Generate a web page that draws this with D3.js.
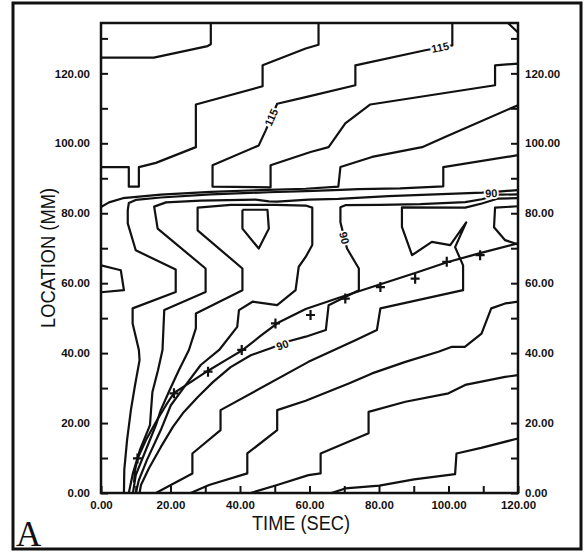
<!DOCTYPE html>
<meta charset="utf-8">
<style>

body {
  margin: 0;
  background: #fff;
}

text {
  font-family: "Liberation Sans", Arial, sans-serif;
  fill: #111;
}

.contour {
  fill: none;
  stroke: #111;
  stroke-width: 2.2;
  stroke-linejoin: round;
}

.axis text {
  font-size: 11.5px;
  font-weight: bold;
}

.axis line {
  stroke: #111;
  stroke-width: 2;
}

</style>
<svg width="588" height="555"></svg>
<script src="https://d3js.org/d3.v7.min.js"></script>
<script>

// contour lines, each point is [time (sec), location (mm)]
var contour_a = [[0,124.5],[15.2,124.5],[30.7,127.8],[31.6,128.3],[31.6,134.4]];

var contour_b = [[62.6,134.4],[62.6,128.2],[58.9,127.1],[46.5,122.3],[46.5,116.3],[27.3,111.1],
                 [27.3,98.9],[15.8,94.4],[10.9,93.2],[10.9,87.6],[8.0,87.6],[8.0,93.2],[0,93.2]];

var contour_c = [[120,131.7],[117.1,134.4],[101.1,134.4],[101.1,128.0],[93.3,126.6],[73.2,122.3],
                 [73.2,116.6],[58.9,113.2],[50.7,111.3],[47.4,103.7],[45.4,99.4],[32.1,93.7],
                 [32.1,87.6],[48.8,87.4],[48.8,93.7],[60.3,97.5],[65.5,98.9],[70.3,105.7],
                 [77.5,111.1],[113.4,116.6],[113.4,122.3],[120,122.8]];

var contour_d = [[0,81.8],[2.3,83.1],[6.3,84.3],[17.2,85.3],[31.6,86.1],[48.2,86.7],[58.9,87.0],
                 [68.3,87.6],[68.9,93.2],[78.0,96.1],[92.4,98.9],[99.0,101.8],[120,110.9]];

var contour_e = [[120,96.6],[98.5,93.2],[98.5,87.7],[86.1,87.1],[74.1,86.9],[68.9,86.7],[58.9,86.3],
                 [48.2,86.0],[31.6,85.4],[17.2,84.5],[10.0,83.8],[8.0,82.9],[7.7,80.9],[7.7,77.1],
                 [10.0,69.4],[21.5,63.9],[21.5,57.5],[9.1,52.8],[9.1,48.5],[10.9,40.9],[11.1,38.0],
                 [9.8,30.9],[8.6,23.7],[7.5,15.1],[6.7,6.6],[6.6,0]];

var contour_f = [[120,86.6],[114.3,86.2],[109.7,85.9],[82.7,84.9],[68.3,84.1],[59.7,83.9],[50.7,83.3],
                 [48.3,83.4],[44.5,83.9],[28.7,83.6],[18.7,83.1],[15.3,81.9],[16.3,75.6],[30.1,64.2],
                 [30.1,57.5],[18.2,52.3],[17.7,40.9],[16.4,35.1],[14.8,28.9],[14.4,23.7],[14.1,19.4],
                 [11.2,12.3],[9.2,5.7],[8.0,0]];

var contour_g = [[9.2,0],[10.0,5.1],[12.9,12.3],[15.8,19.4],[17.2,23.7],[19.5,28.9],[22.4,35.1],
                 [25.3,40.9],[27.3,47.1],[27.3,51.3],[40.7,58.0],[40.7,64.2],[27.8,75.1],[27.8,81.6],
                 [37.3,82.4],[50.2,82.4],[58.9,82.2],[60.8,81.6],[60.8,70.9],[58.9,67.5],[56.9,64.7],
                 [56.0,58.0],[50.7,53.7],[43.6,54.7],[39.7,52.3],[39.2,47.5],[34.0,40.9],[28.7,36.6],
                 [24.4,30.9],[20.1,25.1],[17.2,18.0],[13.2,9.4],[10.9,3.7],[10.0,0]];

var contour_pent = [[40.7,81.0],[47.9,81.0],[48.3,75.6],[45.4,69.9],[40.7,75.6],[40.7,81.0]];

var contour_n = [[120,85.4],[114.3,85.3],[109.6,84.0],[104.8,83.2],[91.9,82.6],[80.4,82.4],[70.3,82.3],
                 [68.9,81.7],[68.9,77.4],[70.8,69.9],[74.2,64.2],[74.2,58.0],[65.5,53.7],[64.7,46.6],
                 [58.9,44.7],[54.0,43.4],[48.8,41.4],[43.1,39.4],[37.3,36.0],[32.2,31.7],[27.8,27.4],
                 [23.8,23.1],[20.7,18.9],[17.2,13.1],[13.8,7.1],[11.5,2.3],[11.1,0]];

var contour_s = [[120,84.3],[114.3,84.2],[109.6,82.8],[104.8,81.6],[86.6,81.7],[86.6,76.1],[89.5,68.0],
                 [95.2,71.8],[100.5,70.9],[105.1,77.4],[101.9,70.3],[104.2,65.1],[104.2,58.0],
                 [80.4,52.8],[79.4,46.6],[73.2,43.7],[59.7,37.5],[34.4,23.7],[34.4,18.0],[26.3,11.3],
                 [26.3,5.6],[15.8,0]];

var contour_k = [[25.8,0],[31.1,2.3],[42.1,5.6],[42.1,11.3],[50.7,18.0],[50.7,23.7],[58.9,26.4],
                 [71.3,31.3],[78.0,34.2],[87.6,37.5],[97.1,40.4],[101.0,41.8],[104.7,41.8],
                 [109.5,45.6],[112.3,52.8],[116.3,54.2],[120,54.7]];

var contour_l = [[43.1,0],[50.7,2.3],[59.7,5.1],[63.2,5.6],[63.2,11.3],[77.0,17.1],[77.0,23.2],
                 [87.6,26.1],[100.0,28.5],[104.8,30.9],[116.3,33.2],[120,33.7]];

var contour_m = [[66.3,0],[70.3,1.3],[80.1,2.1],[90.1,3.9],[101.9,5.4],[102.3,11.3],[109.4,12.9],[120,15.6]];

var contour_r = [[120,82.0],[113.4,81.6],[113.1,76.0],[116.3,72.3],[120,71.1]];

var contour_bump = [[0,65.1],[5.7,63.7],[6.6,58.0],[0,57.4]];

// front position: measured points (+) and the fitted curve
var cross_time = [10.5, 21.0, 30.8, 40.5, 50.2, 60.3, 70.3, 80.4, 90.4, 99.5, 109.1];
var cross_loc  = [9.9, 28.5, 34.7, 40.9, 48.5, 50.9, 55.6, 58.9, 61.3, 66.1, 68.0];

var fit_line = [[9.5,3.0],[9.8,6.6],[10.6,10.0],[12.9,15.1],[15.8,20.3],[18.7,25.1],[21.0,28.6],
                [25.8,31.7],[30.7,34.9],[35.9,38.0],[40.8,40.9],[45.9,44.9],[50.8,48.6],[58.9,52.6],
                [68.9,56.0],[80.4,59.7],[90.4,62.9],[99.6,66.0],[109.1,68.6],[120,71.4]];

// contour labels
var label_text = ["115", "115", "90", "90", "90"];
var label_time = [49.0, 97.6, 112.3, 70.0, 52.2];
var label_loc  = [107.4, 127.4, 85.7, 72.9, 42.3];

// axis ticks
var time_ticks = d3.range(0, 121, 10);
var loc_ticks  = d3.range(0, 131, 10);


var svg = d3.select("svg");

var plot_left = 101, plot_right = 518, plot_top = 23, plot_bottom = 493;

var x = d3.scaleLinear().domain([0, 120]).range([plot_left, plot_right]);
var y = d3.scaleLinear().domain([0, 134.4]).range([plot_bottom, plot_top]);

var fmt = d3.format(".2f");
var tickLabel = function(d) { return d % 20 === 0 ? fmt(d) : ""; };

// outer frame of the figure
svg.append("rect")
   .attr("x", 13).attr("y", 3)
   .attr("width", 568).attr("height", 546)
   .style("fill", "none")
   .style("stroke", "#111")
   .style("stroke-width", 3);

svg.append("clipPath").attr("id", "plotclip")
   .append("rect")
   .attr("x", plot_left).attr("y", plot_top)
   .attr("width", plot_right - plot_left).attr("height", plot_bottom - plot_top);

var line = d3.line()
    .x(function(d) { return x(d[0]); })
    .y(function(d) { return y(d[1]); });

var contours = [contour_a, contour_b, contour_c, contour_d, contour_e, contour_f, contour_g,
                contour_pent, contour_n, contour_s, contour_k, contour_l, contour_m,
                contour_r, contour_bump];

var plot = svg.append("g").attr("clip-path", "url(#plotclip)");

plot.selectAll("path.contour")
    .data(contours)
    .enter().append("path")
    .attr("class", "contour")
    .attr("d", line);

plot.append("path")
    .attr("class", "contour")
    .attr("d", line(fit_line));

// + markers
plot.selectAll("path.cross")
    .data(d3.range(cross_time.length))
    .enter().append("path")
    .attr("class", "cross")
    .attr("transform", function(i) { return "translate(" + x(cross_time[i]) + "," + y(cross_loc[i]) + ")"; })
    .attr("d", "M-4.5,0H4.5M0,-5V5")
    .style("stroke", "#111")
    .style("stroke-width", 2.2);

// contour labels, white halo makes the gap in the line
var label_angle = [-66, -12, -4, 76, -20];
svg.selectAll("text.clabel")
   .data(d3.range(label_text.length))
   .enter().append("text")
   .attr("class", "clabel")
   .attr("transform", function(i) {
       return "translate(" + x(label_time[i]) + "," + y(label_loc[i]) + ") rotate(" + label_angle[i] + ")";
   })
   .attr("text-anchor", "middle")
   .attr("dy", "0.35em")
   .style("font-size", "11px")
   .style("font-weight", "bold")
   .style("stroke", "#fff")
   .style("stroke-width", 3.5)
   .style("paint-order", "stroke")
   .text(function(i) { return label_text[i]; });

// axes, ticks point into the plot
var ax_left = svg.append("g").attr("class", "axis")
   .attr("transform", "translate(" + plot_left + ",0)")
   .call(d3.axisLeft(y).tickValues(loc_ticks).tickSize(-7).tickPadding(11).tickFormat(tickLabel));

var ax_right = svg.append("g").attr("class", "axis")
   .attr("transform", "translate(" + plot_right + ",0)")
   .call(d3.axisRight(y).tickValues(loc_ticks).tickSize(-7).tickPadding(7).tickFormat(tickLabel));

var ax_bottom = svg.append("g").attr("class", "axis")
   .attr("transform", "translate(0," + plot_bottom + ")")
   .call(d3.axisBottom(x).tickValues(time_ticks).tickSize(-7).tickPadding(8).tickFormat(tickLabel));

svg.selectAll(".axis .domain").remove();
svg.selectAll(".axis text").attr("font-family", null).attr("font-size", null);

// plot frame
svg.append("rect")
   .attr("x", plot_left).attr("y", plot_top)
   .attr("width", plot_right - plot_left).attr("height", plot_bottom - plot_top)
   .style("fill", "none")
   .style("stroke", "#111")
   .style("stroke-width", 2.5);

// axis titles
svg.append("text")
   .attr("transform", "translate(55," + (plot_top + plot_bottom) / 2 + ") rotate(-90)")
   .attr("text-anchor", "middle")
   .attr("textLength", 140)
   .attr("lengthAdjust", "spacingAndGlyphs")
   .style("font-size", "20px")
   .text("LOCATION (MM)");

svg.append("text")
   .attr("x", 301)
   .attr("y", 530)
   .attr("text-anchor", "middle")
   .attr("textLength", 98)
   .attr("lengthAdjust", "spacingAndGlyphs")
   .style("font-size", "20px")
   .text("TIME (SEC)");

// panel letter
svg.append("text")
   .attr("x", 16)
   .attr("y", 546)
   .style("font-family", "'Liberation Serif', 'Times New Roman', serif")
   .style("font-size", "35px")
   .text("A");

</script>
